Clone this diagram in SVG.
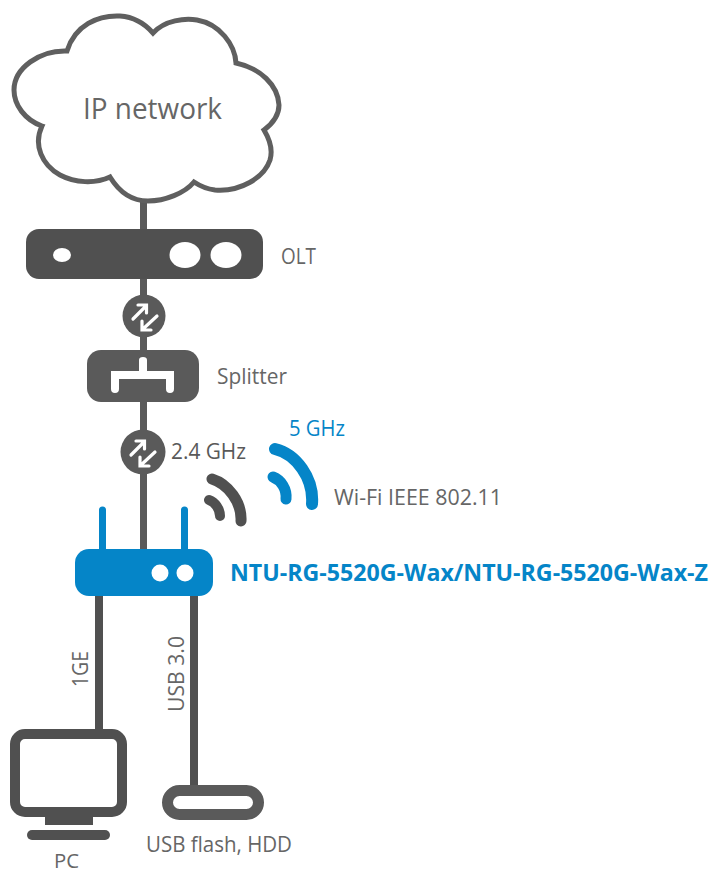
<svg xmlns="http://www.w3.org/2000/svg" width="710" height="874" viewBox="0 0 710 874">
<style>
text{font-family:"Open Sans","Noto Sans","Liberation Sans",sans-serif;font-size:21px;fill:#666}
.dk{fill:#505050}.gr{fill:#5a5a5a}.bl{fill:#0585c8}.w{fill:#fff}
.ln{stroke:#5a5a5a;fill:none}.a{stroke:#fff;stroke-width:3.2;fill:none;stroke-linecap:round;stroke-linejoin:miter}
.arc{fill:none;stroke-linecap:round}
</style>
<defs>
<g id="sw"><path class="a" d="M-11,3 L2,-10 M-6,-11 H2.500 V-3 M13,0 L-1,13 M-2,5 V14 H7"/></g>
</defs>
<g id="connectors">
<path class="ln" stroke-width="7" d="M143.500,200V229M143.500,279V350M143.500,401V549"/>
<path stroke="#0585c8" stroke-width="7" stroke-linecap="round" fill="none" d="M102.500,510V550M184.500,510V550"/>
<path stroke="#505050" stroke-width="8" fill="none" d="M99,596V731M194,596V786"/>
</g>
<g id="cloud">
<path fill="#fff" stroke="#5f5f5f" stroke-width="5" stroke-linejoin="miter" d="M67,51C75,25 98,15 120,16C135,17 146,25 153,33C165,20 185,18 197,20C220,24 235,45 236,63C260,68 278,85 279,105C279,115 272,124 264,130C270,140 273,150 270,160C264,178 240,192 215,190C207,189 200,186 194,182C185,193 165,201 148,201C130,201 118,190 110,177C95,184 75,183 60,175C42,165 33,145 42,126C25,120 14,105 14,90C14,68 40,50 67,51Z"/>
<text x="83" y="119" style="font-size:29px" textLength="139" lengthAdjust="spacingAndGlyphs">IP network</text>
</g>
<g id="olt">
<rect class="dk" x="26" y="229" width="237" height="50" rx="13"/>
<ellipse class="w" cx="62" cy="255" rx="9" ry="7"/>
<ellipse class="w" cx="185" cy="255" rx="15.500" ry="13"/>
<ellipse class="w" cx="226" cy="255" rx="15.500" ry="13"/>
<text x="281" y="264" textLength="35" lengthAdjust="spacingAndGlyphs">OLT</text>
</g>
<g id="link-1"><circle class="gr" cx="144" cy="316" r="21.500"/><use href="#sw" x="144" y="316"/></g>
<g id="splitter">
<rect class="gr" x="87" y="350" width="112" height="52" rx="14"/>
<path class="w" d="M139,360a4,3 0 0 1 8,0V371H174V389a4,4 0 0 1 -8,0V379H119V389a4,4 0 0 1 -8,0V371H139Z"/>
<text x="217" y="384" textLength="70" lengthAdjust="spacingAndGlyphs">Splitter</text>
</g>
<g id="link-2"><circle class="gr" cx="143" cy="452" r="22.500"/><use href="#sw" x="142" y="452"/></g>
<g id="wifi-24">
<path class="arc" stroke="#505050" stroke-width="11" d="M212,479C228,484 242,502 241,521"/>
<path class="arc" stroke="#505050" stroke-width="10" d="M209,500C215,502 220,509 220,516"/>
<text x="171" y="459" textLength="75" lengthAdjust="spacingAndGlyphs" style="fill:#595959">2.4 GHz</text>
</g>
<g id="wifi-5">
<path class="arc" stroke="#0585c8" stroke-width="12" d="M275,449C296,454 314,478 312,504"/>
<path class="arc" stroke="#0585c8" stroke-width="11" d="M273,477C281,480 287,489 286,499"/>
<text x="289" y="436" textLength="56" lengthAdjust="spacingAndGlyphs" style="fill:#0585c8">5 GHz</text>
<text x="334" y="505" textLength="168" lengthAdjust="spacingAndGlyphs">Wi-Fi IEEE 802.11</text>
</g>
<g id="router">
<rect class="bl" x="75" y="549" width="138" height="47" rx="14"/>
<circle class="w" cx="160" cy="573" r="8.500"/>
<circle class="w" cx="185" cy="573" r="8.500"/>
<text x="230" y="581" textLength="478" lengthAdjust="spacingAndGlyphs" style="fill:#0585c8;font-weight:700;font-size:23px">NTU-RG-5520G-Wax/NTU-RG-5520G-Wax-Z</text>
</g>
<g id="label-1ge"><text transform="translate(88,687) rotate(-90)" textLength="36" lengthAdjust="spacingAndGlyphs">1GE</text></g>
<g id="label-usb"><text transform="translate(184,712) rotate(-90)" textLength="76" lengthAdjust="spacingAndGlyphs">USB 3.0</text></g>
<g id="pc">
<rect x="15" y="734" width="107" height="78" rx="10" fill="#fff" stroke="#505050" stroke-width="10"/>
<rect class="dk" x="45" y="816" width="48" height="9"/>
<rect class="dk" x="27" y="830" width="83" height="10" rx="5"/>
<text x="54" y="868" style="font-size:20px" textLength="25" lengthAdjust="spacingAndGlyphs">PC</text>
</g>
<g id="usb">
<rect x="167.500" y="790.500" width="91" height="24" rx="12" fill="#fff" stroke="#5a5a5a" stroke-width="11"/>
<text x="146" y="852" textLength="146" lengthAdjust="spacingAndGlyphs">USB flash, HDD</text>
</g>
</svg>
